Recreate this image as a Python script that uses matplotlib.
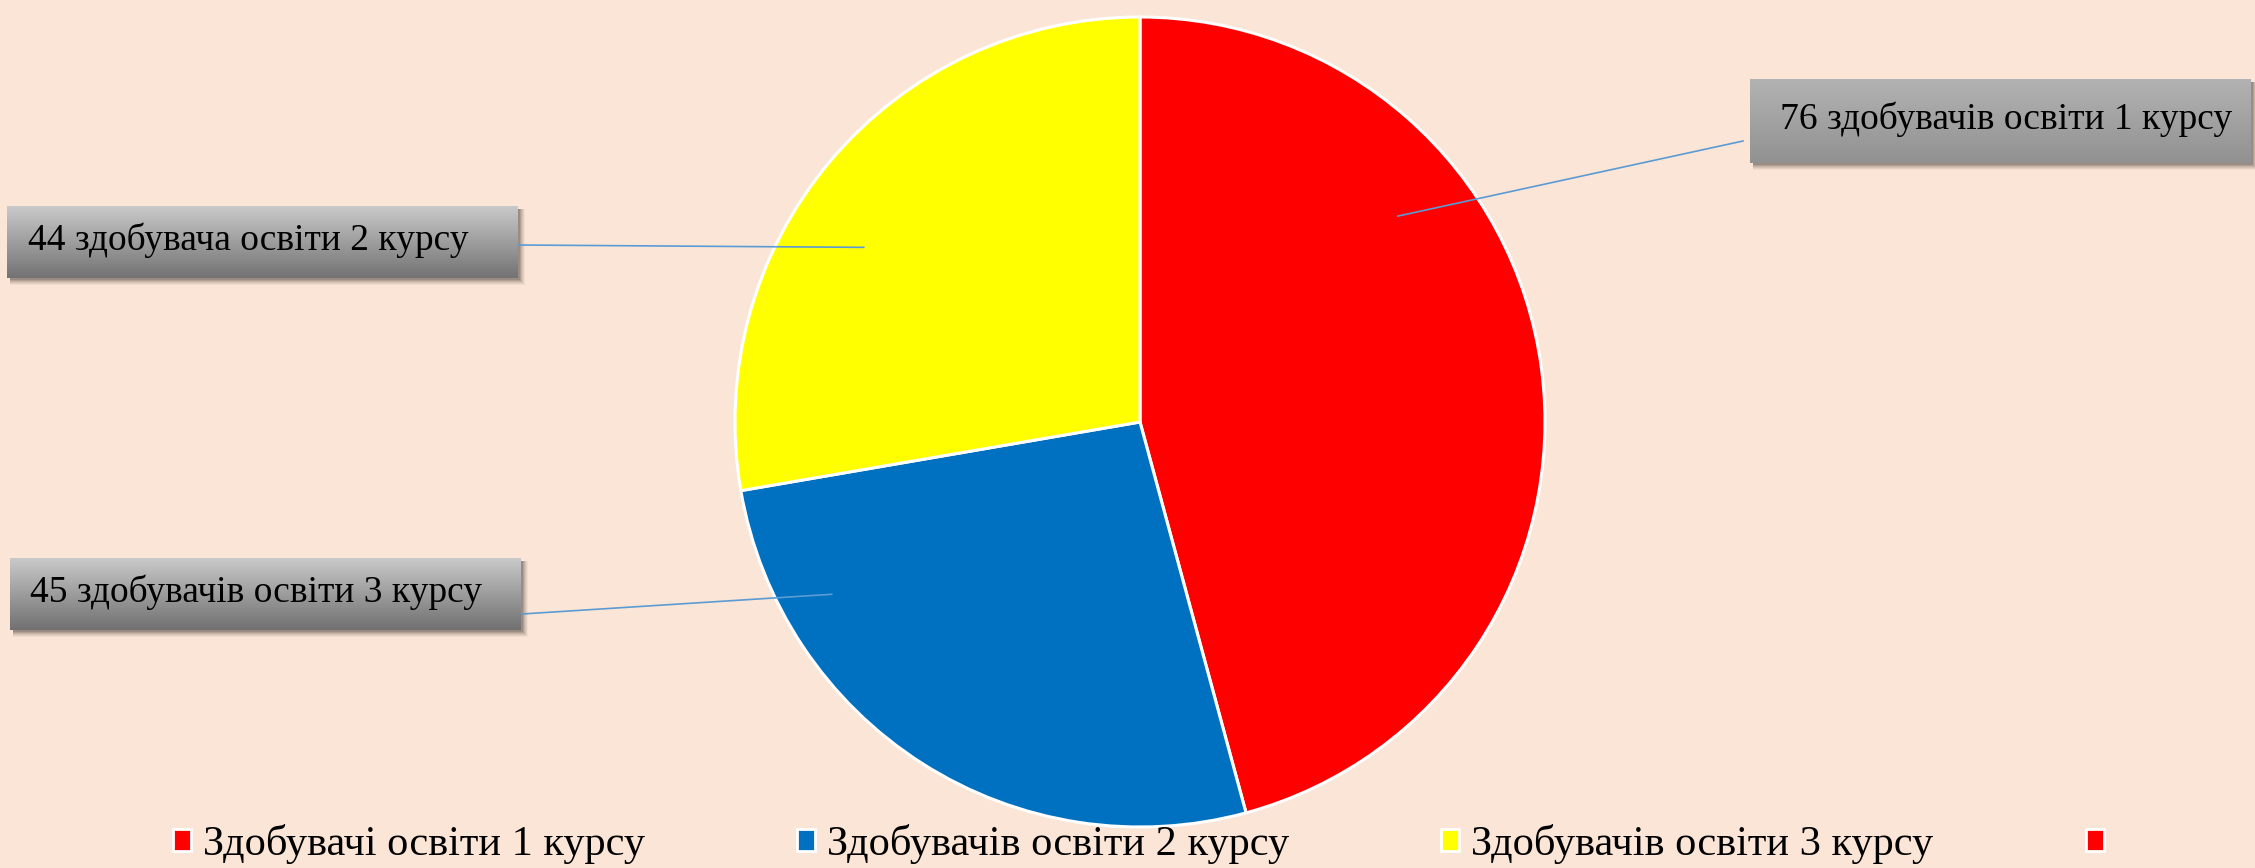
import numpy as np
import matplotlib
matplotlib.use("Agg")
import matplotlib.pyplot as plt
from matplotlib.patches import Patch, Rectangle

# ---- data ----
values = [76, 44, 46]
slice_colors = ["#FF0000", "#0070C0", "#FFFF00"]
categories = ["Здобувачі освіти 1 курсу", "Здобувачів освіти 2 курсу",
              "Здобувачів освіти 3 курсу", ""]
legend_colors = ["#FF0000", "#0070C0", "#FFFF00", "#FF0000"]
label_texts = ["76 здобувачів освіти 1 курсу",
               "45 здобувачів освіти 3 курсу",
               "44 здобувача освіти 2 курсу"]

# ---- layout ----
W, H = 2255, 868
bg = "#FBE5D6"
serif = ["Liberation Serif", "DejaVu Serif"]

fig = plt.figure(figsize=(W / 100, H / 100), dpi=100, facecolor=bg)
cx, cy, r = 1140, 422, 405
ax = fig.add_axes([(cx - r) / W, (H - cy - r) / H, 2 * r / W, 2 * r / H])
wedges, _ = ax.pie(values, colors=slice_colors, startangle=90, counterclock=False,
                   radius=1, wedgeprops=dict(edgecolor="white", linewidth=2.2))
for w in wedges:
    w.set_clip_on(False)
ax.set_xlim(-1, 1)
ax.set_ylim(-1, 1)
ax.set_aspect("auto")
ax.set_axis_off()

# overlay in pixel coordinates
ov = fig.add_axes([0, 0, 1, 1], zorder=5)
ov.set_xlim(0, W)
ov.set_ylim(H, 0)
ov.set_axis_off()
ov.patch.set_alpha(0)

# label boxes: (x0, y0, x1, y1, top grey, bottom grey, text x), anchor (angle deg, fraction r), line start
boxes = [
    (1750, 79, 2251, 163, 0.70, 0.57, 1780, (38.6, 0.815), (1743, 141)),
    (10, 558, 521, 630, 0.79, 0.44, 30, (209.2, 0.872), (522, 614)),
    (7, 206, 518, 278, 0.79, 0.45, 28, (147.7, 0.807), (518, 245)),
]
for (x0, y0, x1, y1, ct, cb, tx, (ang, frac), (lx, ly)), txt in zip(boxes, label_texts):
    # soft shadow
    for k, a in zip(range(6, 0, -1), [0.04, 0.05, 0.06, 0.08, 0.1, 0.12]):
        ov.add_patch(Rectangle((x0 + 3, y0 + 3), x1 - x0 + k - 2, y1 - y0 + k - 2,
                               facecolor="black", alpha=a, edgecolor="none", zorder=1))
    grad = np.linspace(ct, cb, 200)[:, None, None] * np.ones((1, 1, 3))
    ov.imshow(grad, extent=(x0, x1, y1, y0), origin="upper", aspect="auto",
              interpolation="bilinear", zorder=2)
    ov.text(tx, (y0 + y1) / 2 - 2, txt, fontsize=27, family=serif, color="black",
            ha="left", va="center", zorder=3)
    ex = cx + frac * r * np.cos(np.radians(ang))
    ey = cy - frac * r * np.sin(np.radians(ang))
    ov.plot([lx, ex], [ly, ey], color="#5B9BD5", lw=1.2, zorder=4)

ov.set_xlim(0, W)
ov.set_ylim(H, 0)

handles = [Patch(facecolor=c, edgecolor="white", linewidth=2) for c in legend_colors]
fig.legend(handles, categories, ncol=4, loc="center left",
           bbox_to_anchor=(173 / W, 1 - 844 / H), frameon=False,
           prop={"family": serif, "size": 30.5},
           handlelength=0.42, handleheight=0.42, handletextpad=0.28,
           columnspacing=3.6, borderpad=0, borderaxespad=0)

fig.savefig("out.png", dpi=100, facecolor=bg)
